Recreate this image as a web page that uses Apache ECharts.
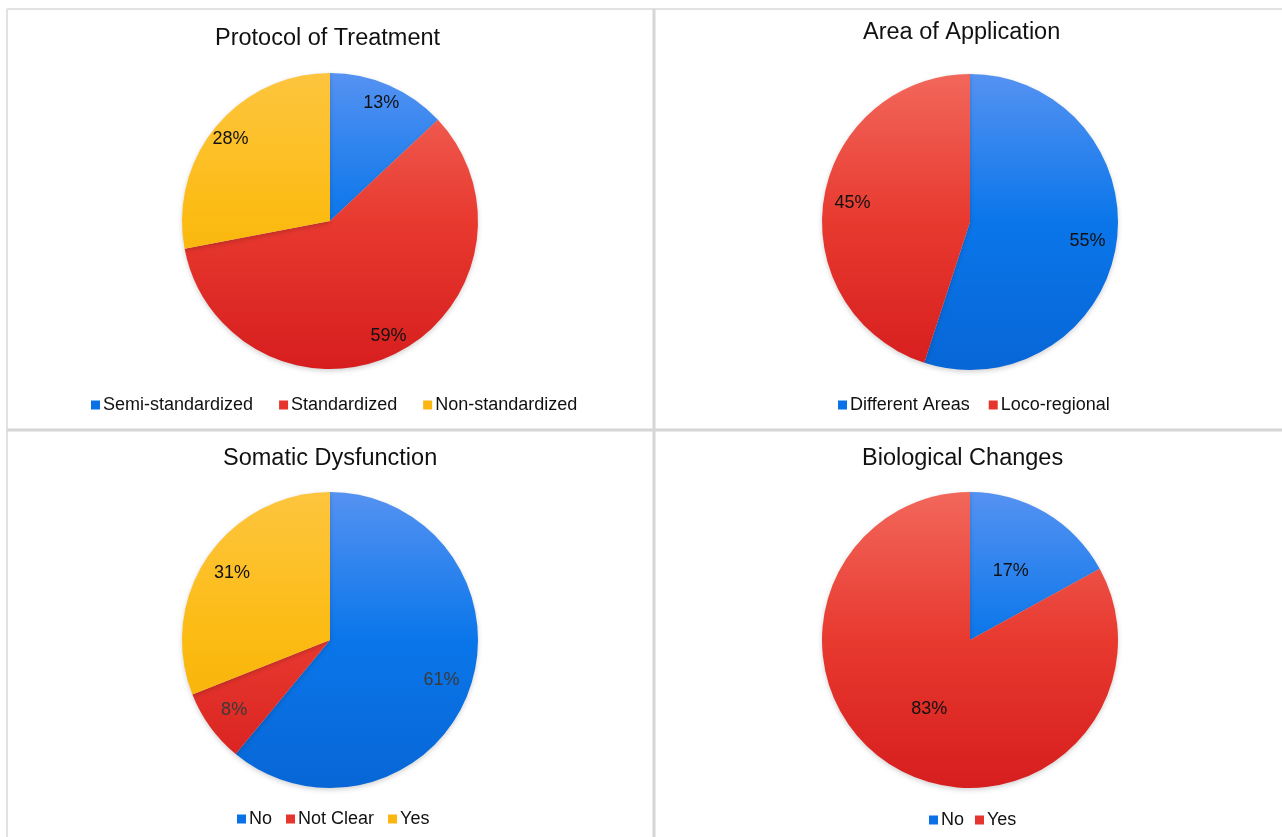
<!DOCTYPE html>
<html>
<head>
<meta charset="utf-8">
<title>Treatment survey pies</title>
<script src="https://cdn.jsdelivr.net/npm/echarts@6/dist/echarts.min.js"></script>
<style>
  html, body { margin: 0; padding: 0; background: #ffffff; }
  #chart { width: 1282px; height: 837px; }
</style>
</head>
<body>
<div id="chart"></div>
<script>
// Survey breakdowns (percent of studies)
const protocolNames = ['Semi-standardized', 'Standardized', 'Non-standardized'];
const protocolValues = [13, 59, 28];

const areaNames = ['Different Areas', 'Loco-regional'];
const areaValues = [55, 45];

const somaticNames = ['No', 'Not Clear', 'Yes'];
const somaticValues = [61, 8, 31];

const biologicalNames = ['No', 'Yes'];
const biologicalValues = [17, 83];

const panelTitles = ['Protocol of Treatment', 'Area of Application', 'Somatic Dysfunction', 'Biological Changes'];

// colour ramps (top -> bottom of each pie)
const ramps = {
  blue:   ['#5592f2', '#0a76ea', '#0866d6'],
  red:    ['#f2675b', '#e8392f', '#d61e1e'],
  yellow: ['#fdc53e', '#fcbb12', '#f2aa00']
};
const solid = { blue: '#0a72e6', red: '#e6352c', yellow: '#fbb710' };

const R = 148;
const FONT = 'Liberation Sans, Arial, Helvetica, sans-serif';

function grad(key, cy) {
  const c = ramps[key];
  return new echarts.graphic.LinearGradient(0, cy - R, 0, cy + R, [
    { offset: 0, color: c[0] },
    { offset: 0.5, color: c[1] },
    { offset: 1, color: c[2] }
  ], true);
}

const panels = [
  { names: protocolNames, values: protocolValues, colors: ['blue', 'red', 'yellow'],
    center: [330, 221], labelInner: 0.7, labelColors: ['#111', '#111', '#111'],
    title: { left: 215, top: 27 }, legend: { left: 91, top: 396, gap: 26 } },
  { names: areaNames, values: areaValues, colors: ['blue', 'red'],
    center: [970, 222], labelInner: 0.57, labelColors: ['#111', '#111'],
    title: { left: 863, top: 21 }, legend: { left: 838, top: 396, gap: 19 } },
  { names: somaticNames, values: somaticValues, colors: ['blue', 'red', 'yellow'],
    center: [330, 640], labelInner: 0.56, labelColors: ['#3a3a3a', '#3a3a3a', '#111'],
    title: { left: 223, top: 447 }, legend: { left: 237, top: 810, gap: 14 } },
  { names: biologicalNames, values: biologicalValues, colors: ['blue', 'red'],
    center: [970, 640], labelInner: 0.04, labelColors: ['#111', '#111'],
    title: { left: 862, top: 447 }, legend: { left: 929, top: 811, gap: 11 } }
];

const titles = [];
const legends = [];
const series = [];

panels.forEach((p, i) => {
  titles.push({
    text: panelTitles[i],
    left: p.title.left,
    top: p.title.top,
    padding: 0,
    textStyle: { fontFamily: FONT, fontSize: 23.5, fontWeight: 'normal', color: '#111' }
  });

  legends.push({
    left: p.legend.left,
    top: p.legend.top,
    padding: 0,
    orient: 'horizontal',
    itemWidth: 9,
    itemHeight: 9,
    itemGap: p.legend.gap,
    icon: 'rect',
    selectedMode: false,
    textStyle: { fontFamily: FONT, fontSize: 18, color: '#111', padding: [0, 0, 0, -2] },
    data: p.names.map((n, k) => ({ name: n, itemStyle: { color: solid[p.colors[k]] } }))
  });

  // filled slices
  series.push({
    type: 'pie',
    legendIndex: i,
    center: p.center,
    radius: [0, R],
    startAngle: 90,
    clockwise: true,
    avoidLabelOverlap: false,
    label: { show: false },
    labelLine: { show: false },
    itemStyle: { borderWidth: 0, shadowBlur: 5, shadowColor: 'rgba(0,0,0,0.18)', shadowOffsetY: 2 },
    emphasis: { disabled: true },
    silent: true,
    animation: false,
    data: p.names.map((n, k) => ({
      name: n,
      value: p.values[k],
      itemStyle: { color: grad(p.colors[k], p.center[1]) }
    }))
  });

  // percentage labels placed on an outer ring of the same slices
  series.push({
    type: 'pie',
    center: p.center,
    radius: [Math.round(R * p.labelInner), R],
    startAngle: 90,
    clockwise: true,
    avoidLabelOverlap: false,
    itemStyle: { color: 'rgba(0,0,0,0)' },
    label: {
      show: true,
      position: 'inside',
      fontFamily: FONT,
      fontSize: 18,
      formatter: (q) => q.value + '%'
    },
    labelLine: { show: false },
    emphasis: { disabled: true },
    silent: true,
    animation: false,
    data: p.names.map((n, k) => ({
      name: n,
      value: p.values[k],
      label: { color: p.labelColors[k] }
    }))
  });
});

// panel frame lines
const frame = [
  { shape: { x1: 7, y1: 9, x2: 1282, y2: 9 }, w: 2, c: '#e2e2e2' },
  { shape: { x1: 7, y1: 9, x2: 7, y2: 837 }, w: 2, c: '#e2e2e2' },
  { shape: { x1: 654, y1: 9, x2: 654, y2: 837 }, w: 3, c: '#d6d6d6' },
  { shape: { x1: 7, y1: 430, x2: 1282, y2: 430 }, w: 3, c: '#d6d6d6' }
].map(f => ({ type: 'line', shape: f.shape, silent: true, style: { stroke: f.c, lineWidth: f.w } }));

const chart = echarts.init(document.getElementById('chart'), null, { renderer: 'canvas' });
chart.setOption({
  backgroundColor: '#ffffff',
  animation: false,
  title: titles,
  legend: legends,
  graphic: frame,
  series: series
});
</script>
</body>
</html>
